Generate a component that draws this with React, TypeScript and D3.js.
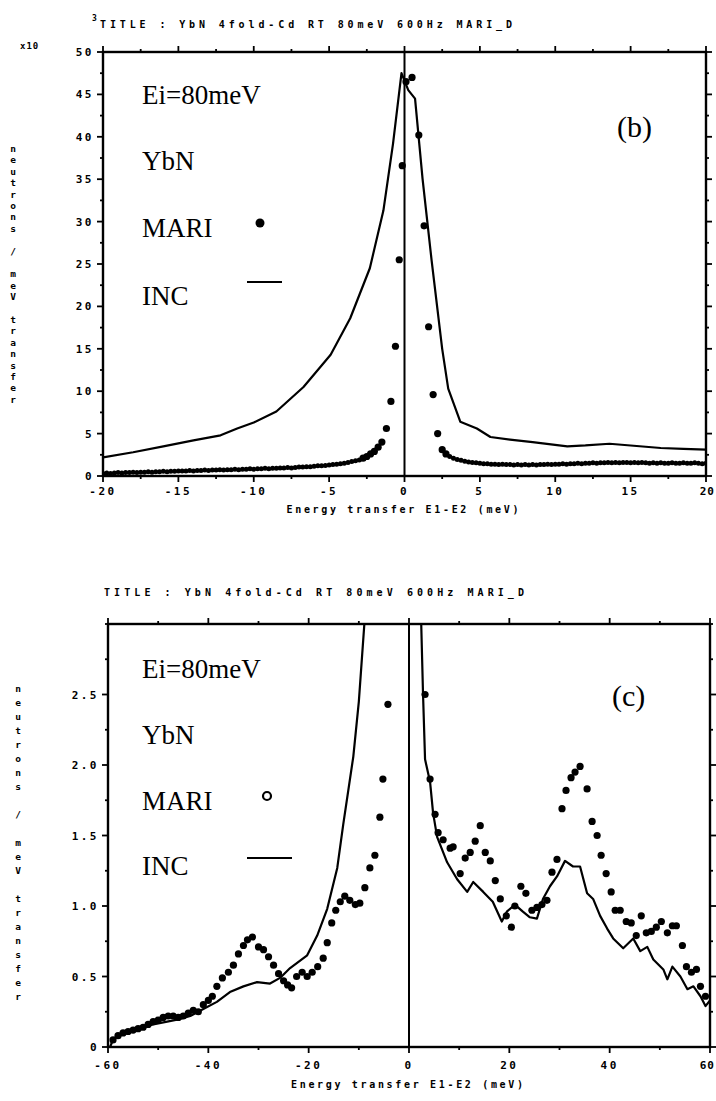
import React from 'react';
import * as d3 from 'd3';

const W = 716;
const H = 1101;

const TITLE = 'TITLE : YbN 4fold-Cd RT 80meV  600Hz MARI_D';
const Y_LABEL = 'neutrons / meV transfer';
const X_LABEL = 'Energy transfer E1-E2 (meV)';

// ---- panel (b) ----
const bXMajor = [-20, -15, -10, -5, 0, 5, 10, 15, 20];
const bXMinor = [-17.5, -12.5, -7.5, -2.5, 2.5, 7.5, 12.5, 17.5];
const bYMajor = [0, 5, 10, 15, 20, 25, 30, 35, 40, 45, 50];
const bYMinor = [2.5, 7.5, 12.5, 17.5, 22.5, 27.5, 32.5, 37.5, 42.5, 47.5];

const bIncX = [-20, -18, -16, -14, -12.2, -11.1, -10, -8.5, -6.7, -4.9, -3.6, -2.3, -1.4, -0.76, -0.2, 0.25, 0.7, 1.2, 1.8, 2.5, 2.9, 3.7, 4.8, 5.7, 7, 8.5, 10.8, 12, 13.6, 15, 17, 18.5, 20];
const bIncY = [2.2, 2.8, 3.5, 4.2, 4.8, 5.6, 6.3, 7.6, 10.5, 14.3, 18.6, 24.5, 31.3, 39.2, 47.5, 45.5, 44.5, 35, 25.4, 15, 10.3, 6.4, 5.6, 4.6, 4.3, 4.0, 3.5, 3.6, 3.8, 3.6, 3.3, 3.2, 3.1];

// MARI tails are sampled every 0.25 meV
const bTailStep = 0.25;
const bTailLeftStart = -20;
const bTailLeft = [
  0.3, 0.35, 0.3, 0.35, 0.4, 0.35, 0.4, 0.4, 0.45, 0.4, 0.45, 0.45, 0.5, 0.45, 0.5, 0.5, 0.55, 0.5, 0.55, 0.55, 0.6,
  0.6, 0.6, 0.65, 0.6, 0.65, 0.65, 0.7, 0.65, 0.7, 0.7, 0.75, 0.7, 0.75, 0.75, 0.8, 0.75, 0.8, 0.8, 0.85, 0.8,
  0.85, 0.85, 0.9, 0.85, 0.9, 0.9, 0.95, 0.95, 1.0, 0.95, 1.0, 1.05, 1.05, 1.1, 1.1, 1.15, 1.2, 1.2, 1.25, 1.3,
  1.35, 1.4, 1.45, 1.5, 1.6, 1.7, 1.8, 1.9,
];
const bPeakX = [-2.75, -2.5, -2.25, -2, -1.75, -1.5, -1.2, -0.9, -0.6, -0.35, -0.15, 0.1, 0.5, 0.95, 1.3, 1.6, 1.9, 2.2, 2.5, 2.75];
const bPeakY = [2.1, 2.3, 2.6, 2.9, 3.4, 4.0, 5.6, 8.8, 15.3, 25.5, 36.6, 46.5, 47, 40.2, 29.5, 17.6, 9.6, 5.0, 3.1, 2.6];
const bTailRightStart = 3;
const bTailRight = [
  2.3, 2.1, 1.95, 1.85, 1.75, 1.65, 1.6, 1.55, 1.5, 1.45, 1.45, 1.4, 1.4, 1.35, 1.4, 1.35, 1.35, 1.3, 1.35, 1.3, 1.35,
  1.3, 1.35, 1.3, 1.35, 1.35, 1.4, 1.35, 1.4, 1.4, 1.45, 1.4, 1.45, 1.45, 1.5, 1.45, 1.5, 1.5, 1.55, 1.5, 1.55,
  1.55, 1.6, 1.55, 1.6, 1.55, 1.6, 1.6, 1.55, 1.6, 1.55, 1.6, 1.55, 1.5, 1.55, 1.5, 1.55, 1.5, 1.5, 1.55, 1.5,
  1.5, 1.55, 1.5, 1.5, 1.55, 1.5, 1.45, 1.5,
];

// ---- panel (c) ----
const cXMajor = [-60, -40, -20, 0, 20, 40, 60];
const cXMinor = [-50, -30, -10, 10, 30, 50];
const cYMajor = [0, 0.5, 1.0, 1.5, 2.0, 2.5];
const cYMinor = [0.25, 0.75, 1.25, 1.75, 2.25, 2.75, 3.0];

const cIncLeftX = [-59.6, -59, -58.2, -56, -54.2, -51, -48.2, -45.5, -43.6, -41, -38.3, -35.7, -33, -30.3, -27.7, -25.7, -23.7, -20.3, -18.3, -16.3, -14.3, -13.1, -12.1, -11.1, -10, -8.8];
const cIncLeftY = [0.0, 0.05, 0.08, 0.11, 0.13, 0.16, 0.18, 0.2, 0.22, 0.27, 0.32, 0.39, 0.43, 0.46, 0.45, 0.49, 0.56, 0.65, 0.79, 0.98, 1.27, 1.58, 1.82, 2.06, 2.45, 3.05];
const cIncRightX = [2.4, 2.8, 3.2, 4.2, 4.8, 5.6, 7.6, 9.6, 11.6, 12.8, 14.8, 16.7, 18.5, 19.5, 21.1, 22.7, 24.1, 25.5, 26.7, 28.1, 29.5, 31.1, 32.7, 34.1, 35.5, 36.7, 38.1, 39.5, 40.7, 42.7, 44.7, 46.1, 47.5, 48.7, 50.7, 51.5, 52.5, 54.1, 55.5, 56.7, 58.1, 59.1, 60];
const cIncRightY = [3.05, 2.5, 2.04, 1.88, 1.66, 1.49, 1.31, 1.19, 1.1, 1.17, 1.1, 1.03, 0.89, 0.96, 1.01, 0.96, 0.92, 0.91, 1.05, 1.14, 1.21, 1.32, 1.28, 1.28, 1.09, 1.05, 0.93, 0.84, 0.77, 0.7, 0.77, 0.68, 0.71, 0.62, 0.55, 0.48, 0.57, 0.5, 0.41, 0.43, 0.36, 0.29, 0.33];

const cMariX = [
  -59, -58, -57, -56, -55, -54, -53, -52, -51, -50, -49, -48, -47, -46, -45, -44, -43, -42, -41, -40, -39.2, -38.3,
  -37.2, -36, -35, -34, -33, -32.2, -31.2, -30, -29, -28, -27, -26, -25, -24.2, -23.4, -22.4, -21.3, -20.3, -19.3,
  -18.2, -17.1, -16.3, -15.4, -14.6, -13.7, -12.8, -11.8, -10.7, -9.8, -8.8, -7.8, -6.8, -5.8, -5.2, -4.2,
  3.2, 4.2, 5.2, 5.8, 6.8, 8.2, 8.8, 10.2, 11.2, 12.2, 13.2, 14.2, 15.2, 16.2, 17.2, 18.2, 19.4, 20.4, 21.1, 22.3,
  23.3, 24.5, 25.5, 26.5, 27.5, 28.5, 29.5, 30.5, 31.3, 32.3, 33.1, 34.1, 35.5, 36.5, 37.5, 38.3, 39.3, 40.3, 41.1,
  42.1, 43.3, 44.3, 45.3, 46.3, 47.3, 48.3, 49.3, 50.3, 51.5, 52.5, 53.3, 54.5, 55.3, 56.3, 57.3, 58.1, 59.1,
];
const cMariY = [
  0.05, 0.08, 0.1, 0.11, 0.12, 0.13, 0.14, 0.16, 0.18, 0.19, 0.21, 0.22, 0.22, 0.21, 0.22, 0.24, 0.26, 0.25, 0.3, 0.33, 0.36, 0.43,
  0.49, 0.53, 0.58, 0.66, 0.72, 0.76, 0.78, 0.71, 0.69, 0.64, 0.58, 0.52, 0.47, 0.44, 0.42, 0.5, 0.53, 0.5, 0.53,
  0.57, 0.63, 0.74, 0.88, 0.97, 1.03, 1.07, 1.04, 1.01, 1.02, 1.13, 1.27, 1.36, 1.63, 1.9, 2.43,
  2.5, 1.9, 1.65, 1.52, 1.47, 1.41, 1.42, 1.23, 1.34, 1.38, 1.46, 1.57, 1.38, 1.32, 1.18, 1.05, 0.93, 0.85, 1.0, 1.14,
  1.09, 0.97, 0.99, 1.01, 1.04, 1.24, 1.33, 1.69, 1.82, 1.91, 1.95, 1.99, 1.83, 1.6, 1.5, 1.36, 1.23, 1.1, 0.97,
  0.97, 0.89, 0.88, 0.79, 0.93, 0.81, 0.82, 0.85, 0.89, 0.81, 0.86, 0.86, 0.72, 0.57, 0.53, 0.55, 0.43, 0.36,
];

type Pt = [number, number];
const zip = (xs: number[], ys: number[]): Pt[] => xs.map((x, i) => [x, ys[i]]);
const grid = (start: number, step: number, ys: number[]): Pt[] => ys.map((y, i) => [start + i * step, y]);

const tickFont = {
  fontFamily: 'DejaVu Sans Mono',
  fontWeight: 700,
  fontSize: 11,
  letterSpacing: 2.5,
} as const;

type PanelProps = {
  frame: { left: number; right: number; top: number; bottom: number };
  xDomain: [number, number];
  yDomain: [number, number];
  xMajor: number[];
  xMinor: number[];
  yMajor: number[];
  yMinor: number[];
  yFmt: (v: number) => string;
  incSegments: Pt[][];
  mariGroups: { pts: Pt[]; r: number }[];
  id: string;
  xLabelY: number;
  tickLabelY: number;
};

const Panel: React.FC<PanelProps> = (p) => {
  const { left, right, top, bottom } = p.frame;
  const x = d3.scaleLinear().domain(p.xDomain).range([left, right]);
  const y = d3.scaleLinear().domain(p.yDomain).range([bottom, top]);
  const line = d3.line<Pt>().x(d => x(d[0])).y(d => y(d[1])).curve(d3.curveLinear);
  const major = 6;
  const minor = 3;
  const lastX = p.xMajor[p.xMajor.length - 1];
  return (
    <g>
      <defs>
        <clipPath id={p.id}>
          <rect x={left} y={top} width={right - left} height={bottom - top} />
        </clipPath>
      </defs>
      <rect x={left} y={top} width={right - left} height={bottom - top} fill="none" stroke="#000" strokeWidth={2.4} />
      {/* ticks, pointing outward on all four sides */}
      <g stroke="#000" strokeWidth={1.8}>
        {p.xMajor.map(v => (
          <g key={'xM' + v}>
            <line x1={x(v)} x2={x(v)} y1={bottom} y2={bottom + major} />
            <line x1={x(v)} x2={x(v)} y1={top} y2={top - major} />
          </g>
        ))}
        {p.xMinor.map(v => (
          <g key={'xm' + v}>
            <line x1={x(v)} x2={x(v)} y1={bottom} y2={bottom + minor} />
            <line x1={x(v)} x2={x(v)} y1={top} y2={top - minor} />
          </g>
        ))}
        {p.yMajor.map(v => (
          <g key={'yM' + v}>
            <line x1={left} x2={left - major} y1={y(v)} y2={y(v)} />
            <line x1={right} x2={right + major} y1={y(v)} y2={y(v)} />
          </g>
        ))}
        {p.yMinor.map(v => (
          <g key={'ym' + v}>
            <line x1={left} x2={left - minor} y1={y(v)} y2={y(v)} />
            <line x1={right} x2={right + minor} y1={y(v)} y2={y(v)} />
          </g>
        ))}
      </g>
      {p.xMajor.map(v => {
        const isLast = v === lastX;
        return (
          <text
            key={'xl' + v}
            x={isLast ? W - 1 : x(v)}
            y={p.tickLabelY}
            textAnchor={isLast ? 'end' : 'middle'}
            {...tickFont}
            letterSpacing={isLast ? 1 : tickFont.letterSpacing}
          >
            {v < 0 ? '-' + Math.abs(v) : String(v)}
          </text>
        );
      })}
      {p.yMajor.map(v => (
        <text key={'yl' + v} x={left - 9} y={y(v) + 4} textAnchor="end" {...tickFont}>
          {p.yFmt(v)}
        </text>
      ))}
      <text
        x={(left + right) / 2 - 118}
        y={p.xLabelY}
        {...tickFont}
        fontSize={10}
        letterSpacing={0}
        textLength={232}
        lengthAdjust="spacing"
      >
        {X_LABEL}
      </text>
      {/* zero line */}
      <line x1={x(0)} x2={x(0)} y1={top} y2={bottom} stroke="#000" strokeWidth={2} />
      <g clipPath={`url(#${p.id})`}>
        {p.incSegments.map((seg, i) => (
          <path key={'inc' + i} d={line(seg) ?? ''} fill="none" stroke="#000" strokeWidth={2.2} strokeLinejoin="round" />
        ))}
        {p.mariGroups.map((g, gi) =>
          g.pts.map((d, i) => <circle key={`m${gi}-${i}`} cx={x(d[0])} cy={y(d[1])} r={g.r} fill="#000" />)
        )}
      </g>
    </g>
  );
};

const StackedLabel: React.FC<{ x: number; y: number; step: number }> = ({ x, y, step }) => (
  <g>
    {Y_LABEL.split('').map((ch, i) =>
      ch === ' ' ? null : (
        <text key={i} x={x} y={y + i * step} textAnchor="middle" {...tickFont} fontSize={9.5} letterSpacing={0}>
          {ch}
        </text>
      )
    )}
  </g>
);

const serif = { fontFamily: 'Liberation Serif', fontSize: 27, fill: '#000' } as const;

export default function App() {
  const bFrame = { left: 103, right: 706, top: 52, bottom: 476 };
  const cFrame = { left: 108, right: 710, top: 624, bottom: 1047 };
  return (
    <div style={{ position: 'absolute', left: 0, top: 0, width: W, height: H, background: '#fff' }}>
      <svg width={W} height={H} viewBox={`0 0 ${W} ${H}`}>
        <rect width={W} height={H} fill="#fff" />
        {/* panel (b) header */}
        <text x={20} y={49} {...tickFont} fontSize={9} letterSpacing={1}>x10</text>
        <text x={92} y={21} {...tickFont} fontSize={8} letterSpacing={0}>3</text>
        <text x={100} y={28} {...tickFont} fontSize={10} letterSpacing={0} textLength={412} lengthAdjust="spacing">
          {TITLE}
        </text>
        <StackedLabel x={13} y={152} step={11.4} />
        <Panel
          id="clipB"
          frame={bFrame}
          xDomain={[-20, 20]}
          yDomain={[0, 50]}
          xMajor={bXMajor}
          xMinor={bXMinor}
          yMajor={bYMajor}
          yMinor={bYMinor}
          yFmt={v => String(v)}
          incSegments={[zip(bIncX, bIncY)]}
          mariGroups={[
            { pts: grid(bTailLeftStart, bTailStep, bTailLeft), r: 2.5 },
            { pts: zip(bPeakX, bPeakY), r: 3.6 },
            { pts: grid(bTailRightStart, bTailStep, bTailRight), r: 2.5 },
          ]}
          tickLabelY={495}
          xLabelY={513}
        />
        <text x={142} y={104} {...serif}>Ei=80meV</text>
        <text x={142} y={170} {...serif}>YbN</text>
        <text x={142} y={237} {...serif}>MARI</text>
        <text x={142} y={305} {...serif}>INC</text>
        <circle cx={260} cy={223} r={4.5} fill="#000" />
        <line x1={247} x2={282} y1={282} y2={282} stroke="#000" strokeWidth={2} />
        <text x={617} y={137} {...serif} fontSize={30}>(b)</text>

        {/* panel (c) */}
        <text x={104} y={596} {...tickFont} fontSize={10} letterSpacing={0} textLength={420} lengthAdjust="spacing">
          {TITLE}
        </text>
        <StackedLabel x={18} y={692} step={14} />
        <Panel
          id="clipC"
          frame={cFrame}
          xDomain={[-60, 60]}
          yDomain={[0, 3]}
          xMajor={cXMajor}
          xMinor={cXMinor}
          yMajor={cYMajor}
          yMinor={cYMinor}
          yFmt={v => (v === 0 ? '0' : v.toFixed(1))}
          incSegments={[zip(cIncLeftX, cIncLeftY), zip(cIncRightX, cIncRightY)]}
          mariGroups={[{ pts: zip(cMariX, cMariY), r: 3.6 }]}
          tickLabelY={1069}
          xLabelY={1088}
        />
        <text x={142} y={678} {...serif}>Ei=80meV</text>
        <text x={142} y={744} {...serif}>YbN</text>
        <text x={142} y={810} {...serif}>MARI</text>
        <text x={142} y={875} {...serif}>INC</text>
        <circle cx={267} cy={796} r={4} fill="#fff" stroke="#000" strokeWidth={2.2} />
        <line x1={247} x2={292} y1={858} y2={858} stroke="#000" strokeWidth={2} />
        <text x={612} y={706} {...serif} fontSize={30}>(c)</text>
      </svg>
    </div>
  );
}
